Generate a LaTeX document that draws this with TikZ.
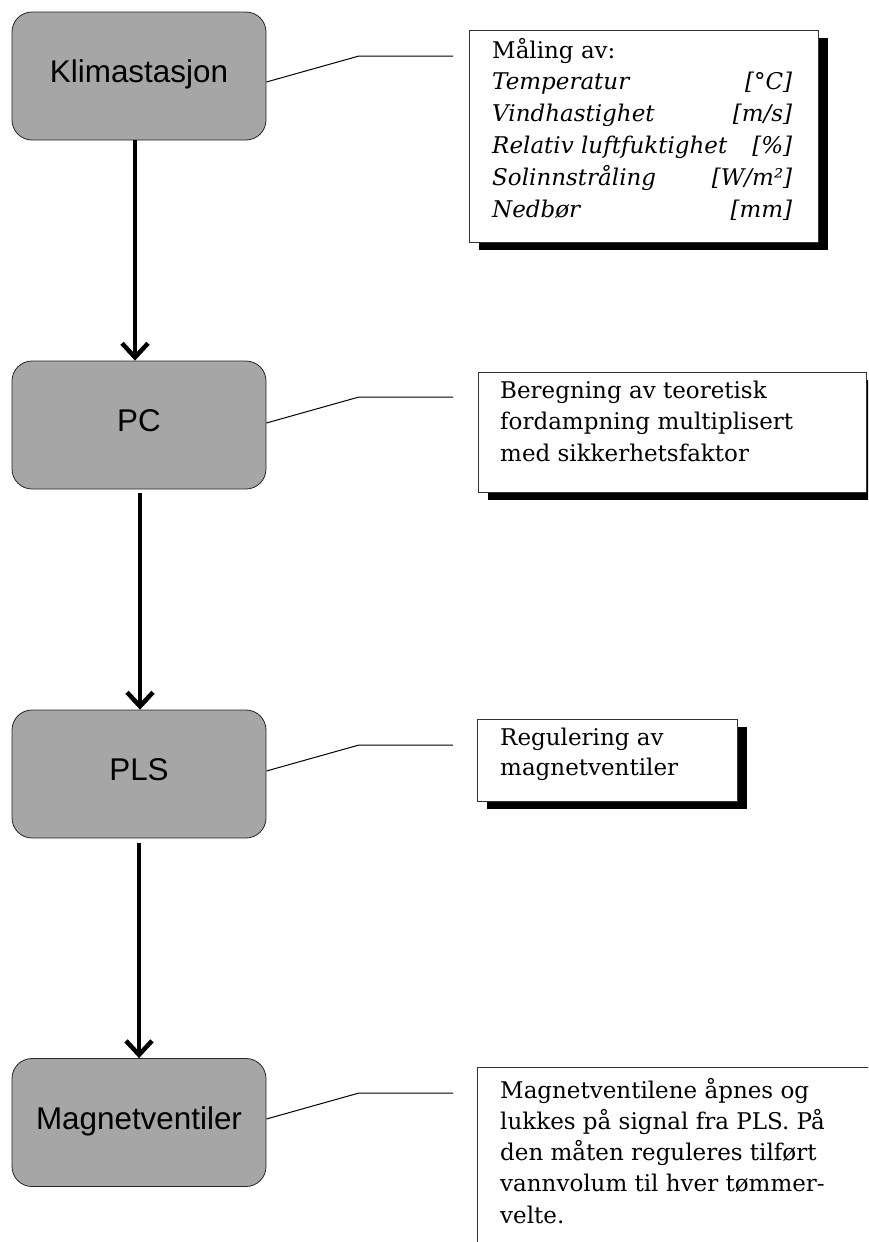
\documentclass[tikz,border=0pt]{standalone}
\usepackage{fontspec}
\setmainfont{DejaVu Serif}
\newfontfamily\boxsans{Liberation Sans}
\usetikzlibrary{arrows.meta,shadows}
\definecolor{boxgray}{RGB}{166,166,166}
\newcommand\infolines[2]{\vtop{\baselineskip=#1\relax #2}}
\tikzset{
  stage/.style={draw=black!85, line width=0.8pt, fill=boxgray, rounded corners=20pt,
    minimum width=254pt, minimum height=128pt, inner sep=0pt,
    font=\boxsans\fontsize{31.4}{36}\selectfont, text height=22.5pt, text depth=9pt},
  infobox/.style={draw=black!80, line width=0.8pt, fill=white, inner sep=0pt, rectangle},
  shadowed/.style={drop shadow={shadow xshift=10pt, shadow yshift=-8pt, fill=black, opacity=1}},
  infotext/.style={anchor=base west, inner sep=0pt, font=\fontsize{23}{31.5}\selectfont},
  callout/.style={draw=black, line width=1pt},
  flowarrow/.style={draw=black, line width=4.5pt, -{Straight Barb[length=14pt,width=26pt]}}
}
\begin{document}
\begin{tikzpicture}[x=1pt,y=-1pt]
\useasboundingbox (0,0) rectangle (868,1242);
\clip (0,0) rectangle (868,1242);
\fill[white] (0,0) rectangle (868,1242);

% stage boxes
\node[stage] (k1) at (139,76) {Klimastasjon};
\node[stage] (k2) at (139,425) {PC};
\node[stage] (k3) at (139,774) {PLS};
\node[stage] (k4) at (139,1122.5) {Magnetventiler};

% arrows
\draw[flowarrow] ([xshift=-4pt]k1.south) -- ([xshift=-4pt]k2.north);
\draw[flowarrow] ([xshift=1pt,yshift=-4pt]k2.south) -- ([xshift=1pt]k3.north);
\draw[flowarrow] ([yshift=-5pt]k3.south) -- (k4.north);

% info boxes
\node[infobox, shadowed, minimum width=349pt, minimum height=212pt] (b1) at (643.5,136) {};
\node[infobox, shadowed, minimum width=388pt, minimum height=120pt] (b2) at (672,432) {};
\node[infobox, shadowed, minimum width=260pt, minimum height=82pt] (b3) at (607,760) {};
\node[infobox, minimum width=423pt, minimum height=233pt] (b4) at (688.5,1183.5) {};

% texts
\node[infotext] (t1) at (492,58) {\infolines{31.8pt}{%
  \hbox{Måling av:}
  \hbox to 300pt{\itshape Temperatur\hfil[°C]}
  \hbox to 300pt{\itshape Vindhastighet\hfil[m/s]}
  \hbox to 300pt{\itshape Relativ luftfuktighet\hfil[\%]}
  \hbox to 300pt{\itshape Solinnstråling\hfil[W/m²]}
  \hbox to 300pt{\itshape Nedbør\hfil[mm]}}};
\node[infotext] (t2) at (500,398) {\infolines{31.5pt}{%
  \hbox{Beregning av teoretisk}
  \hbox{fordampning multiplisert}
  \hbox{med sikkerhetsfaktor}}};
\node[infotext] (t3) at (500,745) {\infolines{30pt}{%
  \hbox{Regulering av}
  \hbox{magnetventiler}}};
\node[infotext] (t4) at (500,1098) {\infolines{31.3pt}{%
  \hbox{Magnetventilene åpnes og}
  \hbox{lukkes på signal fra PLS. På}
  \hbox{den måten reguleres tilført}
  \hbox{vannvolum til hver tømmer-}
  \hbox{velte.}}};

% callout lines
\coordinate (c1k) at (359,56);  \coordinate (c1e) at (453,56);
\coordinate (c2k) at (359,397); \coordinate (c2e) at (453,397);
\coordinate (c3k) at (359,745); \coordinate (c3e) at (453,745);
\coordinate (c4k) at (359,1093); \coordinate (c4e) at (453,1093);
\draw[callout] ([yshift=-6pt]k1.east) -- (c1k) -- (c1e);
\draw[callout] ([yshift=2pt]k2.east) -- (c2k) -- (c2e);
\draw[callout] ([yshift=3pt]k3.east) -- (c3k) -- (c3e);
\draw[callout] ([yshift=3.5pt]k4.east) -- (c4k) -- (c4e);
\end{tikzpicture}
\end{document}
